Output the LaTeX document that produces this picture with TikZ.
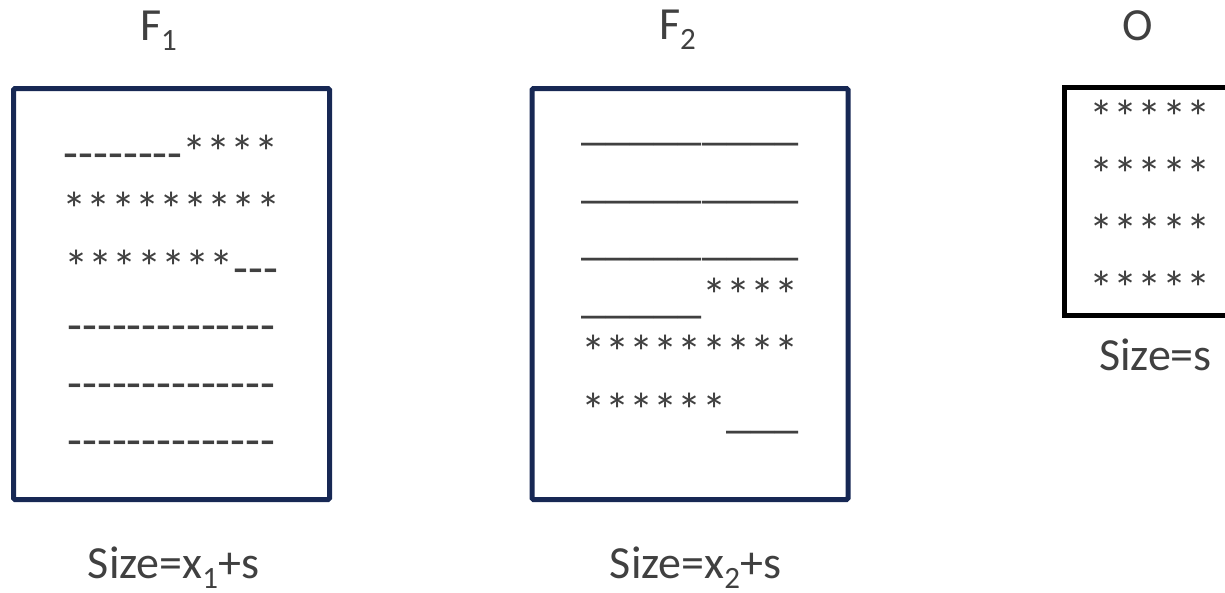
\documentclass[tikz,border=0pt]{standalone}
\usepackage{fontspec}
\setmainfont{Carlito}[Ligatures=TeXOff]
\definecolor{navy}{HTML}{172854}
\definecolor{txt}{HTML}{404040}
\newcommand\subs[1]{\raisebox{-10pt}{\fontsize{31}{31}\selectfont #1}}
\begin{document}
\begin{tikzpicture}[x=1pt,y=-1pt,
  every node/.style={inner sep=0pt, outer sep=0pt},
  lbl/.style={text=txt, font=\fontsize{46}{55}\selectfont, anchor=base},
  body/.style={text=txt, font=\fontsize{48.5}{55}\selectfont, anchor=base},
  filebox/.style={draw=navy, line width=5pt, rounded corners=1.5pt, minimum width=316pt, minimum height=411pt},
  outbox/.style={draw=black, line width=5pt, minimum width=171pt, minimum height=228pt}]
\useasboundingbox (0,0) rectangle (1225,592);
\clip (0,0) rectangle (1225,592);
% boxes
\node[filebox] (f1) at (171.5,294) {};
\node[filebox] (f2) at (690,294) {};
\node[outbox] (o) at (1150,201.5) {};
% titles
\node[lbl] (t1) at (158.5,40) {F\subs{1}};
\node[lbl] (t2) at (677.5,39) {F\subs{2}};
\node[lbl] (t3) at (1137.5,40) {O};
% sizes
\node[lbl] (s1) at (173.5,578) {Size=x\subs{1}+s};
\node[lbl] (s2) at (695.5,578) {Size=x\subs{2}+s};
\node[lbl] (s3) at (1155.5,370) {Size=s};
% F1 content
\node[body] (a1) at (171.5,169)   {--------****};
\node[body] (a2) at (171.5,226.5) {*********};
\node[body] (a3) at (171.5,284)   {*******---};
\node[body] (a4) at (171.5,341.5) {--------------};
\node[body] (a5) at (171.5,399)   {--------------};
\node[body] (a6) at (171.5,456.5) {--------------};
% F2 content
\node[body] (b1) at (690,139.5) {\_\_\_\_\_\_\_\_\_};
\node[body] (b2) at (690,197)   {\_\_\_\_\_\_\_\_\_};
\node[body] (b3) at (690,254.5) {\_\_\_\_\_\_\_\_\_};
\node[body] (b4) at (690,312)   {\_\_\_\_\_****};
\node[body] (b5) at (690,369.5) {*********};
\node[body] (b6) at (690,427)   {******\_\_\_};
% O content
\node[body] (c1) at (1150,134) {*****};
\node[body] (c2) at (1150,191) {*****};
\node[body] (c3) at (1150,248) {*****};
\node[body] (c4) at (1150,305) {*****};
\end{tikzpicture}
\end{document}
